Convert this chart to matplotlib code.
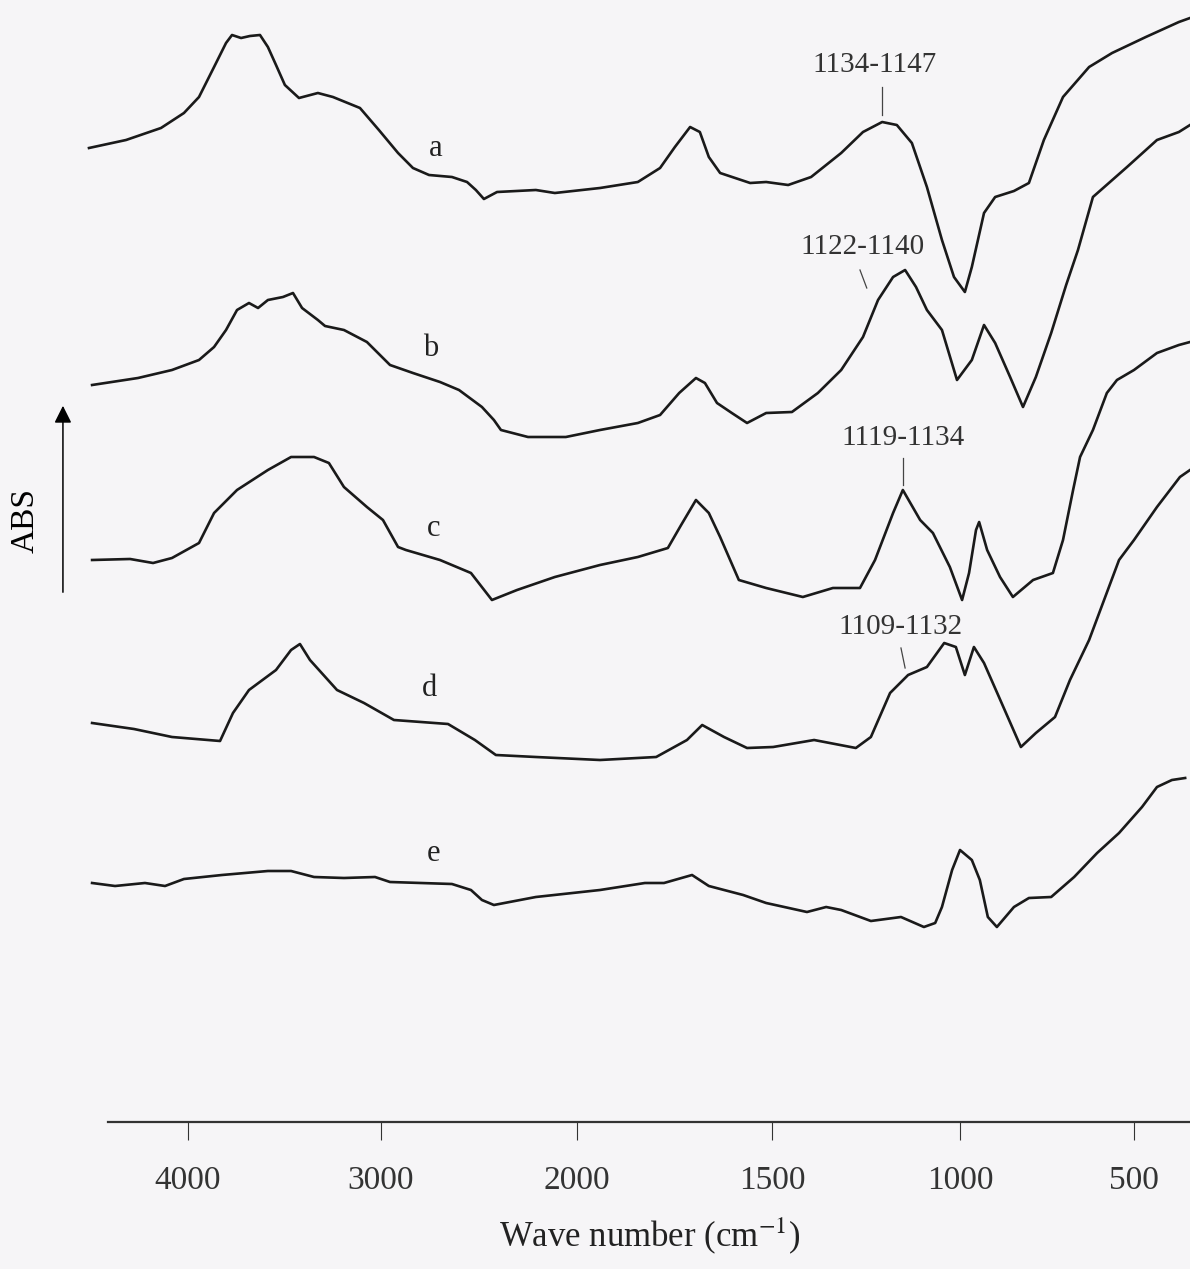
#!/usr/bin/env python3
"""FTIR difference spectra a-e, stacked, with the usual 2000 cm-1 scale change."""
import numpy as np
import matplotlib
matplotlib.use("Agg")
import matplotlib.pyplot as plt

# ---------------------------------------------------------------------------
# Axis: wavenumber tick values (cm-1). The spectrometer x-axis is stretched
# below 2000 cm-1, so ticks are not evenly spaced.
TICKS = [4000, 3000, 2000, 1500, 1000, 500]

# Spectra (wavenumber, offset absorbance in arbitrary units)
wn_a = [4513, 4321, 4140, 4021, 3943, 3865, 3803, 3772, 3725, 3679, 3627, 3586,
        3544, 3498, 3425, 3327, 3249, 3109, 3011, 2913, 2837, 2755, 2638, 2561,
        2516, 2475, 2408, 2210, 2113, 1941, 1844, 1787, 1749, 1710, 1685, 1662,
        1633, 1556, 1515, 1457, 1396, 1316, 1258, 1207, 1168, 1128, 1088, 1048,
        1016, 986, 966, 931, 899, 845, 802, 759, 704, 629, 563, 466, 371, 339]
abs_a = [974, 982, 994, 1009, 1025, 1055, 1079, 1087, 1084, 1086, 1087, 1075,
         1057, 1037, 1024, 1029, 1025, 1014, 992, 969, 954, 947, 945, 940,
         932, 923, 930, 932, 929, 934, 940, 954, 975, 995, 990, 965,
         949, 939, 940, 937, 945, 969, 990, 1000, 997, 979, 935, 882,
         845, 830, 855, 909, 925, 931, 939, 982, 1025, 1055, 1069, 1085, 1100, 1104]

wn_b = [4497, 4259, 4083, 3943, 3865, 3803, 3746, 3684, 3637, 3586, 3508, 3456,
        3409, 3327, 3290, 3192, 3073, 2954, 2837, 2699, 2602, 2485, 2424, 2388,
        2250, 2057, 1941, 1844, 1787, 1738, 1695, 1672, 1641, 1603, 1564, 1515,
        1447, 1378, 1316, 1258, 1218, 1178, 1146, 1117, 1088, 1048, 1008, 966,
        931, 899, 856, 819, 782, 738, 695, 661, 618, 520, 434, 371, 339]
abs_b = [737, 744, 752, 762, 775, 792, 812, 819, 814, 822, 825, 829,
         814, 802, 796, 792, 780, 757, 749, 740, 732, 715, 702, 692,
         685, 685, 692, 699, 707, 729, 744, 739, 719, 709, 699, 709,
         710, 729, 752, 785, 822, 845, 852, 835, 812, 792, 742, 762,
         797, 779, 745, 715, 745, 789, 837, 872, 925, 955, 982, 990, 997]

wn_c = [4497, 4300, 4181, 4083, 3943, 3865, 3746, 3586, 3466, 3347, 3270, 3192,
        3073, 2990, 2913, 2873, 2699, 2541, 2434, 2306, 2113, 1941, 1844, 1767,
        1733, 1695, 1662, 1633, 1585, 1515, 1418, 1338, 1266, 1226, 1178, 1152,
        1106, 1072, 1027, 994, 974, 954, 945, 922, 885, 848, 790, 733, 704, 675,
        655, 618, 578, 549, 500, 434, 371, 339]
abs_c = [562, 563, 559, 564, 579, 609, 632, 652, 665, 665, 659, 635,
         615, 602, 575, 572, 562, 549, 522, 532, 545, 557, 565, 574,
         597, 622, 609, 585, 542, 534, 525, 534, 534, 562, 609, 632,
         602, 589, 555, 522, 549, 592, 600, 572, 545, 525, 542, 549, 582, 632,
         665, 692, 729, 742, 752, 769, 777, 780]

wn_d = [4497, 4280, 4083, 3834, 3767, 3684, 3544, 3466, 3420, 3368, 3228, 3088,
        2934, 2796, 2658, 2521, 2414, 2210, 1941, 1797, 1718, 1679, 1623, 1564,
        1497, 1388, 1277, 1237, 1186, 1138, 1088, 1042, 1011, 986, 960, 931,
        888, 825, 782, 727, 684, 629, 543, 500, 434, 368, 339]
abs_d = [399, 393, 385, 381, 409, 432, 452, 472, 478, 462, 432, 419,
         402, 400, 398, 382, 367, 365, 362, 365, 382, 397, 385, 374,
         375, 382, 374, 385, 429, 447, 455, 479, 475, 447, 475, 459,
         425, 375, 389, 405, 442, 482, 562, 582, 615, 645, 652]

wn_e = [4497, 4378, 4223, 4119, 4021, 3824, 3586, 3466, 3347, 3192, 3031, 2954,
        2796, 2638, 2541, 2485, 2424, 2210, 1941, 1826, 1777, 1705, 1662, 1574,
        1515, 1407, 1356, 1316, 1237, 1157, 1096, 1066, 1048, 1021, 1000, 966,
        943, 920, 894, 845, 802, 738, 672, 606, 543, 477, 434, 391, 353]
abs_e = [239, 236, 239, 236, 243, 247, 251, 251, 245, 244, 245, 240,
         239, 238, 232, 222, 217, 225, 232, 239, 239, 247, 236, 227,
         219, 210, 215, 212, 201, 205, 195, 199, 215, 252, 272, 262,
         242, 205, 195, 215, 224, 225, 245, 269, 289, 315, 335, 342, 344]

SPECTRA = [("a", wn_a, abs_a), ("b", wn_b, abs_b), ("c", wn_c, abs_c),
           ("d", wn_d, abs_d), ("e", wn_e, abs_e)]

# curve letter positions (wavenumber, height)
LETTER_POS = {"a": (2720, 974), "b": (2745, 774), "c": (2730, 594),
              "d": (2755, 434), "e": (2730, 269)}

# peak annotations: text, text pos, tick start, tick end
PEAK_NOTES = [
    ("1134-1147", (1226, 1057), (1207, 1035), (1207, 1007)),
    ("1122-1140", (1258, 875),  (1266, 852),  (1248, 834)),
    ("1119-1134", (1152, 684),  (1152, 664),  (1152, 637)),
    ("1109-1132", (1157, 495),  (1157, 474),  (1146, 454)),
]

# ---------------------------------------------------------------------------
# piecewise-linear wavenumber scale (knots);
# negated so the transform is increasing, then the axis is shown reversed
_w_knots = np.array([0, 500, 1000, 1500, 2000, 3000, 4000, 5500], dtype=float)
_p_knots = np.array([1308, 1134, 960, 772, 577, 381, 188, -101.5])


def _fwd(w):
    return -np.interp(w, _w_knots, _p_knots)


def _inv(t):
    return np.interp(-np.asarray(t, dtype=float), _p_knots[::-1], _w_knots[::-1])


plt.rcParams["font.family"] = ["Liberation Serif", "DejaVu Serif"]
plt.rcParams["mathtext.fontset"] = "stix"

W, H = 1190, 1269
AX_BOTTOM = 1122   # px from top where the x-axis line sits
fig = plt.figure(figsize=(W / 100, H / 100), dpi=100)
fig.patch.set_facecolor("#f6f5f7")
ax = fig.add_axes([0, 1 - AX_BOTTOM / H, 1, AX_BOTTOM / H])
ax.set_facecolor("none")

ax.set_xscale("function", functions=(_fwd, _inv))
ax.set_xlim(_inv(0), _inv(-W))
ax.set_ylim(0, AX_BOTTOM)

for name, wn, ab in SPECTRA:
    ax.plot(wn, ab, color="#1a1a1a", linewidth=1.9, solid_joinstyle="round")
    lx, ly = LETTER_POS[name]
    ax.text(lx, ly, name, fontsize=22, ha="center", va="center", color="#222222")

for txt, tpos, t0, t1 in PEAK_NOTES:
    ax.text(tpos[0], tpos[1], txt, fontsize=21, ha="center", va="center", color="#333333")
    ax.plot([t0[0], t1[0]], [t0[1], t1[1]], color="#444444", linewidth=0.9)

# ABS arrow on the left
ax.annotate("", xy=(4648, 719), xytext=(4648, 527),
            arrowprops=dict(arrowstyle="-|>", color="black", lw=1.1, mutation_scale=26),
            annotation_clip=False)
ax.text(4844, 602, "ABS", rotation=90, fontsize=24, ha="center", va="center")

# x axis: only bottom spine, starting a bit left of 4000
for side in ("left", "right", "top"):
    ax.spines[side].set_visible(False)
ax.spines["bottom"].set_bounds(_inv(-108), _inv(-W))
ax.spines["bottom"].set_linewidth(1.6)
ax.spines["bottom"].set_color("#333333")
ax.set_yticks([])
ax.set_xticks(TICKS)
ax.set_xticklabels([str(t) for t in TICKS])
ax.xaxis.set_minor_locator(matplotlib.ticker.NullLocator())
ax.tick_params(axis="x", direction="out", length=13, width=0.8, pad=18,
               labelsize=24, colors="#333333")
# title sits a little right of centre, under the 2000-1500 ticks
ax.set_xlabel("Wave number (cm$^{-1}$)", fontsize=25, labelpad=14, color="#222222",
              x=650 / W)

fig.savefig("out.png", dpi=100, facecolor=fig.get_facecolor())
